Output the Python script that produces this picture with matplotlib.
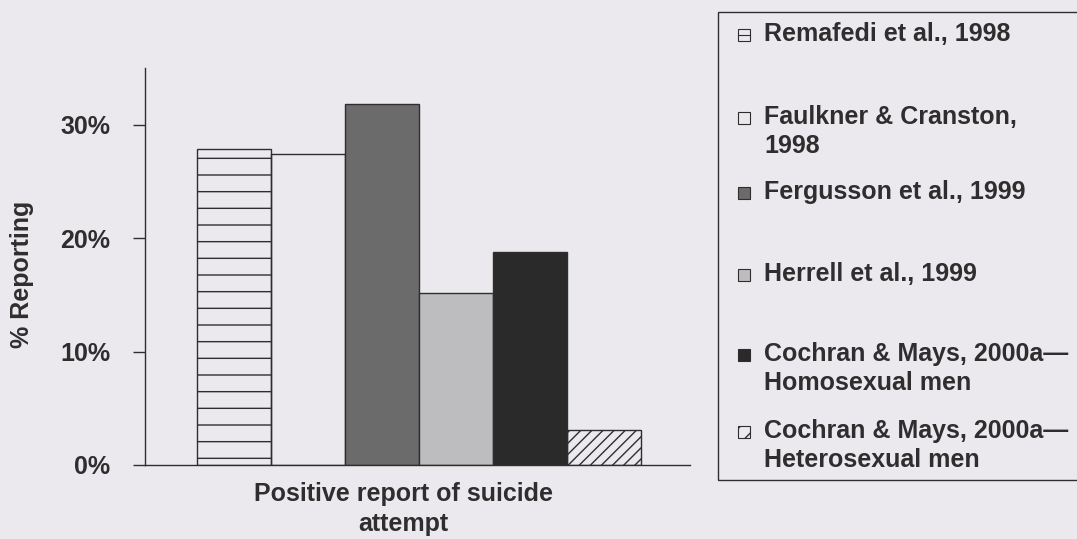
import matplotlib.pyplot as plt
from matplotlib.patches import Rectangle
from matplotlib.lines import Line2D
import numpy as np

# ==================================================
# Data
# ==================================================

studies = [
    "Remafedi et al., 1998",
    "Faulkner & Cranston,\n1998",
    "Fergusson et al., 1999",
    "Herrell et al., 1999",
    "Cochran & Mays, 2000a\u2014\nHomosexual men",
    "Cochran & Mays, 2000a\u2014\nHeterosexual men",
]

percent_reporting = [27.9, 27.4, 31.8, 15.2, 18.8, 3.1]

y_ticks = [0, 10, 20, 30]
y_tick_labels = ["0%", "10%", "20%", "30%"]

category = "Positive report of suicide\nattempt"

# ==================================================
# Style
# ==================================================

paper = "#ebe9ed"
ink = "#2e2e2e"

fills = ["none", "none", "#6b6b6b", "#bdbcbe", "#2a2a2a", "none"]
hatches = ["-", "", "", "", "", "///"]

plt.rcParams["font.family"] = ["Liberation Sans", "DejaVu Sans"]
plt.rcParams["font.weight"] = "bold"
plt.rcParams["hatch.linewidth"] = 1.0
plt.rcParams["hatch.color"] = ink

fig = plt.figure(figsize=(10.77, 5.39), dpi=100, facecolor=paper)

ax = fig.add_axes([0.1346, 0.1373, 0.5061, 0.7365])
ax.set_facecolor(paper)

x = np.arange(len(percent_reporting))

for i, value in enumerate(percent_reporting):
    ax.bar(
        x[i],
        value,
        width=1.0,
        facecolor=fills[i],
        edgecolor=ink,
        hatch=hatches[i],
        linewidth=1.0,
    )

ax.set_xlim(-1.2, 6.16)
ax.set_ylim(0, 35)

ax.set_yticks(y_ticks)
ax.set_yticklabels(y_tick_labels, fontsize=18, color=ink, fontweight="bold")
ax.tick_params(axis="y", direction="out", length=9, width=1,
               color=ink, pad=16)
ax.set_xticks([])

for side in ["top", "right"]:
    ax.spines[side].set_visible(False)

for side in ["left", "bottom"]:
    ax.spines[side].set_color(ink)
    ax.spines[side].set_linewidth(1.0)

fig.text(
    22 / 1077, 1 - 274 / 539,
    "% Reporting",
    rotation=90,
    ha="center",
    va="center",
    fontsize=18,
    color=ink,
)

fig.text(
    403 / 1077, 1 - 509 / 539,
    category,
    ha="center",
    va="center",
    multialignment="center",
    linespacing=1.3,
    fontsize=18,
    color=ink,
)

# ==================================================
# Legend (boxed, hand placed)
# ==================================================

W, H = 1077.0, 539.0

fig.add_artist(
    Rectangle(
        (718 / W, 1 - 480 / H),
        (1090 - 718) / W,
        (480 - 12) / H,
        transform=fig.transFigure,
        facecolor="none",
        edgecolor=ink,
        linewidth=1.0,
    )
)

entry_y = [35, 118, 193, 275, 355, 432]

for i, label in enumerate(studies):
    yc = entry_y[i]
    fig.add_artist(
        Rectangle(
            (738 / W, 1 - (yc + 6) / H),
            12 / W,
            12 / H,
            transform=fig.transFigure,
            facecolor=fills[i] if fills[i] != "none" else paper,
            edgecolor=ink,
            hatch="//" if i == 5 else "",
            linewidth=0.8,
        )
    )
    if i == 0:
        fig.add_artist(
            Line2D(
                [738 / W, 750 / W],
                [1 - yc / H, 1 - yc / H],
                transform=fig.transFigure,
                color=ink,
                linewidth=0.8,
            )
        )
    fig.text(
        764 / W, 1 - (yc - 13) / H,
        label,
        ha="left",
        va="top",
        linespacing=1.25,
        fontsize=18,
        color=ink,
    )

fig.savefig("out.png", dpi=100, facecolor=paper)
